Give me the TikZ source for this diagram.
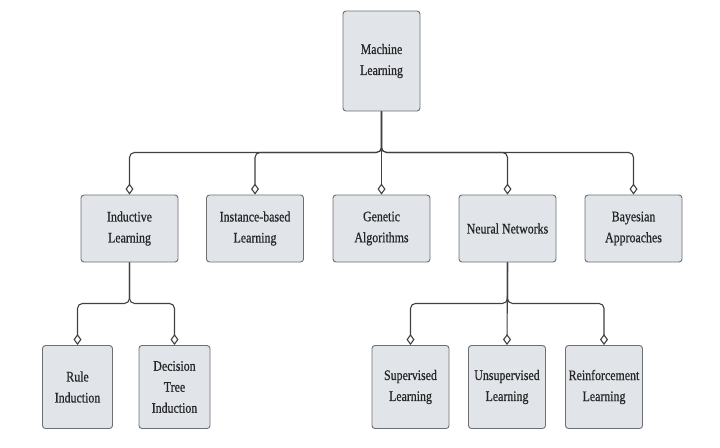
\documentclass[tikz,border=0pt]{standalone}
\usepackage{fontspec}
\setmainfont{Liberation Serif}[FakeStretch=0.82, FakeBold=0.6]
\usepackage{xcolor}
\usetikzlibrary{arrows.meta, positioning}

\definecolor{boxfill}{HTML}{E1E4E9}
\definecolor{boxline}{HTML}{6B6E73}
\definecolor{linkcol}{HTML}{3F4145}

\tikzset{
    topic/.style={draw=boxline, fill=boxfill, rounded corners=3pt,
        line width=0.9pt, align=center, inner sep=2pt, text=black!85,
        font=\fontsize{14.5}{21}\selectfont},
    link/.style={draw=linkcol, line width=1.1pt, rounded corners=5pt,
        -{Diamond[open, fill=white, length=11pt, width=8pt]}}
}

\begin{document}
\begin{tikzpicture}[x=1pt, y=-1pt]

    \useasboundingbox (0,0) rectangle (720,447);

    \node[topic, minimum width=77pt, minimum height=100pt]
        (ml) at (381.5,61) {Machine\\Learning};

    \node[topic, minimum width=97pt, minimum height=67pt]
        (il) at (129.5,228.5) {Inductive\\Learning};
    \node[topic, minimum width=97pt, minimum height=67pt]
        (ib) at (255,228.5) {Instance-based\\Learning};
    \node[topic, minimum width=97pt, minimum height=67pt]
        (ga) at (381.5,228.5) {Genetic\\Algorithms};
    \node[topic, minimum width=97pt, minimum height=67pt]
        (nn) at (507.5,228.5) {Neural Networks};
    \node[topic, minimum width=97pt, minimum height=67pt]
        (ba) at (633.5,228.5) {Bayesian\\Approaches};

    \node[topic, minimum width=70pt, minimum height=83pt]
        (ri) at (77.5,387) {Rule\\Induction};
    \node[topic, minimum width=71pt, minimum height=83pt]
        (dt) at (174.5,387) {Decision\\Tree\\Induction};

    \node[topic, minimum width=77pt, minimum height=83pt]
        (sl) at (410.5,387) {Supervised\\Learning};
    \node[topic, minimum width=77pt, minimum height=83pt]
        (ul) at (507,387) {Unsupervised\\Learning};
    \node[topic, minimum width=77pt, minimum height=83pt]
        (rl) at (604,387) {Reinforcement\\Learning};

    % first level
    \draw[link] (ml.south) -- ++(0,41) -| (il.north);
    \draw[link] (ml.south) -- ++(0,41) -| (ib.north);
    \draw[link] (ml.south) -- (ga.north);
    \draw[link] (ml.south) -- ++(0,41) -| (nn.north);
    \draw[link] (ml.south) -- ++(0,41) -| (ba.north);

    % inductive learning
    \draw[link] (il.south) -- ++(0,41) -| (ri.north);
    \draw[link] (il.south) -- ++(0,41) -| (dt.north);

    % neural networks
    \draw[link] (nn.south) -- ++(0,41) -| (sl.north);
    \draw[link] (nn.south) -- (ul.north);
    \draw[link] (nn.south) -- ++(0,41) -| (rl.north);

\end{tikzpicture}
\end{document}
